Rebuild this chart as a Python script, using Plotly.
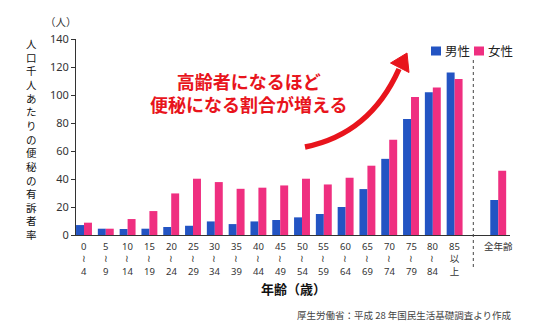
import plotly.graph_objects as go

# ---- data ----
tick_labels = ["0<br>≀<br>4", "5<br>≀<br>9", "10<br>≀<br>14", "15<br>≀<br>19", "20<br>≀<br>24",
               "25<br>≀<br>29", "30<br>≀<br>34", "35<br>≀<br>39", "40<br>≀<br>44", "45<br>≀<br>49",
               "50<br>≀<br>54", "55<br>≀<br>59", "60<br>≀<br>64", "65<br>≀<br>69", "70<br>≀<br>74",
               "75<br>≀<br>79", "80<br>≀<br>84", "85<br>以<br>上", "全年齢"]
male = [7.1, 4.5, 4.3, 4.5, 5.7, 6.6, 9.7, 7.8, 9.7, 10.7, 12.6, 15.0, 20.0, 32.8, 54.4, 82.9, 101.9, 116.1, 25.0]
female = [8.8, 4.5, 11.4, 17.1, 29.7, 40.2, 37.8, 33.0, 33.8, 35.4, 40.2, 36.1, 40.9, 49.5, 68.1, 98.6, 105.4, 111.4, 45.9]
y_ticks = [0, 20, 40, 60, 80, 100, 120, 140]
series_names = ["男性", "女性"]
y_title = "人口千人あたりの便秘の有訴者率"
y_unit = "（人）"
x_title = "年齢（歳）"
note = "厚生労働省：平成 28 年国民生活基礎調査より作成"
message = "高齢者になるほど<br>便秘になる割合が増える"

# ---- layout geometry ----
W, H = 560, 332
L, R, T, B = 76, 50, 39, 97
PW, PH = W - L - R, H - T - B
BLUE = "#2354c3"
PINK = "#ef2f80"
RED = "#e8141c"
TXT = "#333333"
JP = "Noto Sans CJK JP"
NUM = "Noto Sans, Noto Sans CJK JP"


def px(x):
    return (x - L) / PW


def py(y):
    return (H - B - y) / PH


n = len(tick_labels)
xpos = list(range(n - 1)) + [n]  # leave an empty slot before the overall group

fig = go.Figure()
fig.add_bar(x=xpos, y=male, name=series_names[0], marker=dict(color=BLUE, line=dict(width=0)))
fig.add_bar(x=xpos, y=female, name=series_names[1], marker=dict(color=PINK, line=dict(width=0)))

ann = []
# x tick labels (stacked lines, one text each)
for i, lab in enumerate(tick_labels):
    ann.append(dict(x=xpos[i], xref="x", y=py(239), yref="paper",
                    text=lab, showarrow=False, xanchor="center", yanchor="top", align="center",
                    borderpad=0, font=dict(family=NUM, size=9.5, color=TXT)))
# vertical y title (one character per line)
ann.append(dict(x=px(31), xref="paper", y=py(138.5), yref="paper",
                text="<br>".join(y_title), showarrow=False, xanchor="center", yanchor="middle",
                align="center", borderpad=0, font=dict(family=JP, size=10.5, color="#111111")))
ann.append(dict(x=px(61), xref="paper", y=py(21.5), yref="paper", text=y_unit, showarrow=False,
                xanchor="center", yanchor="middle", borderpad=0,
                font=dict(family=JP, size=10.5, color=TXT)))
ann.append(dict(x=px(293), xref="paper", y=py(288), yref="paper", text="<b>" + x_title + "</b>",
                showarrow=False, xanchor="center", yanchor="middle", borderpad=0,
                font=dict(family=JP, size=13, color="#111111")))
ann.append(dict(x=px(514), xref="paper", y=py(315), yref="paper", text=note, showarrow=False,
                xanchor="right", yanchor="middle", font=dict(family=JP, size=9.5, color="#444444")))
ann.append(dict(x=px(248), xref="paper", y=py(92), yref="paper", text="<b>" + message + "</b>",
                showarrow=False, xanchor="center", yanchor="middle", align="center",
                font=dict(family=JP, size=18, color=RED)))
# legend
for name, color, x0 in [(series_names[0], BLUE, 431), (series_names[1], PINK, 474)]:
    ann.append(dict(x=px(x0 + 11.5), xref="paper", y=py(51), yref="paper", text=name,
                    showarrow=False, xanchor="left", yanchor="middle",
                    font=dict(family=JP, size=12.5, color="#222222")))

shapes = []
for color, x0 in [(BLUE, 431), (PINK, 474)]:
    shapes.append(dict(type="rect", xref="paper", yref="paper", x0=px(x0), x1=px(x0 + 10),
                       y0=py(55.5), y1=py(46.5), fillcolor=color, line=dict(width=0)))
# dashed separator
shapes.append(dict(type="line", xref="paper", yref="paper", x0=px(473.3), x1=px(473.3),
                   y0=py(267), y1=py(60), line=dict(color="#444444", width=1, dash="3px,3px")))
# curved red arrow
p0, c, p2 = (305, 147), (370, 134), (399, 69)
path = "M {},{} Q {},{} {},{}".format(px(p0[0]), py(p0[1]), px(c[0]), py(c[1]), px(p2[0]), py(p2[1]))
shapes.append(dict(type="path", xref="paper", yref="paper", path=path,
                   line=dict(color=RED, width=5.5)))
head = "M {},{} L {},{} L {},{} Z".format(px(407), py(53), px(390.5), py(63), px(409), py(72.5))
shapes.append(dict(type="path", xref="paper", yref="paper", path=head,
                   fillcolor=RED, line=dict(color=RED, width=1)))

fig.update_layout(
    width=W, height=H,
    margin=dict(l=L, r=R, t=T, b=B),
    paper_bgcolor="white", plot_bgcolor="white",
    barmode="group", bargap=0.27, bargroupgap=0,
    showlegend=False,
    annotations=ann, shapes=shapes,
    xaxis=dict(range=[-0.367, 19.54], showticklabels=False, ticks="", showgrid=False,
               zeroline=False, showline=True, linecolor=TXT, linewidth=1),
    yaxis=dict(range=[0, 140], tickvals=y_ticks, ticks="outside", ticklen=4, tickcolor=TXT,
               showgrid=False, zeroline=False, showline=True, linecolor=TXT, linewidth=1,
               tickfont=dict(family=NUM, size=11, color=TXT)),
)

fig.write_html("out.html")
